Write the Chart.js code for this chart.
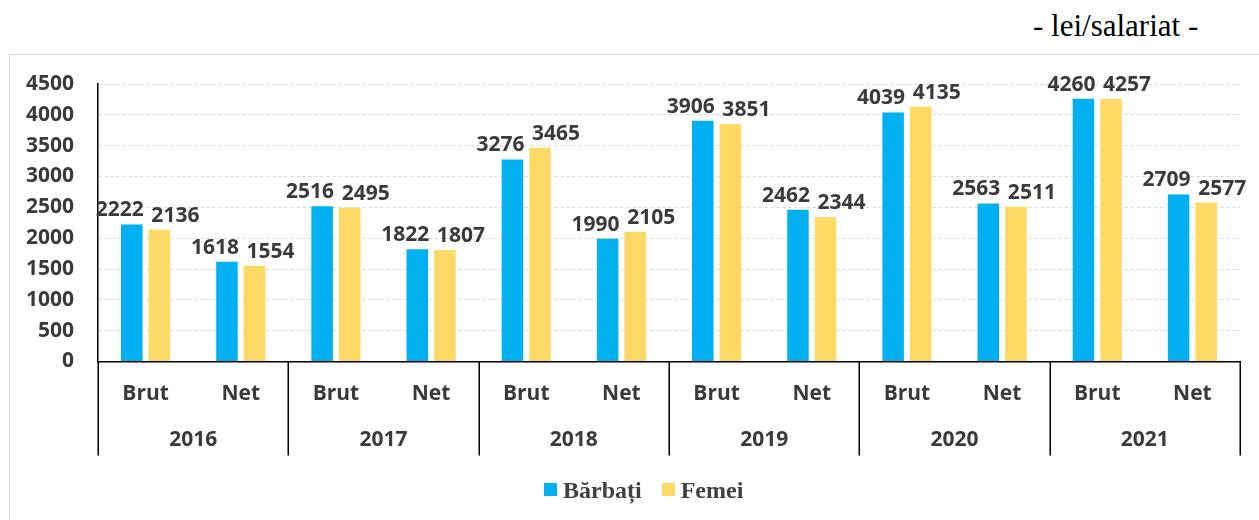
<!DOCTYPE html>
<html>
<head>
<meta charset="utf-8">
<script src="https://cdn.jsdelivr.net/npm/chart.js@4.4.1/dist/chart.umd.min.js"></script>
<style>
  html, body { margin: 0; padding: 0; background: #fff; width: 1259px; height: 520px; overflow: hidden; position: relative; }
  #unit { position: absolute; left: 1033px; top: 10px; font-family: "Liberation Serif", "Times New Roman", serif; font-size: 31px; line-height: 31px; color: #000; white-space: nowrap; }
  #box { position: absolute; left: 9px; top: 54px; width: 1300px; height: 500px; border: 1px solid #d9d9d9; }
  #c { position: absolute; left: 0; top: 0; width: 1266px; height: 465px; }
  #legend { position: absolute; left: 544px; top: 477.5px; display: flex; align-items: center; font-family: "Liberation Serif", "Times New Roman", serif; font-weight: bold; font-size: 24px; line-height: 24px; color: #404040; white-space: nowrap; }
  #legend .sw { display: inline-block; width: 13px; height: 13px; margin-right: 6px; }
  #legend .item { display: flex; align-items: center; margin-right: 20px; }
</style>
</head>
<body>
<div id="unit">- lei/salariat -</div>
<div id="box"><canvas id="c" width="1266" height="465"></canvas></div>
<div id="legend"></div>
<script>
// ---- data ----
const years = ["2016", "2017", "2018", "2019", "2020", "2021"];
const types = ["Brut", "Net"];
const categories = ["Brut", "Net", "Brut", "Net", "Brut", "Net", "Brut", "Net", "Brut", "Net", "Brut", "Net"];
const barbati = [2222, 1618, 2516, 1822, 3276, 1990, 3906, 2462, 4039, 2563, 4260, 2709];
const femei   = [2136, 1554, 2495, 1807, 3465, 2105, 3851, 2344, 4135, 2511, 4257, 2577];
const seriesNames = ["Bărbați", "Femei"];
const seriesColors = ["#00B0F0", "#FFD966"];
const yTicks = [0, 500, 1000, 1500, 2000, 2500, 3000, 3500, 4000, 4500];

const FONT = '"Open Sans", "Noto Sans", sans-serif';
const TEXT = '#3a3a3a';
const FS = 21;

const valueLabels = {
  id: 'valueLabels',
  afterDatasetsDraw(chart) {
    const ctx = chart.ctx;
    ctx.save();
    ctx.font = 'bold ' + FS + 'px ' + FONT;
    ctx.fillStyle = TEXT;
    ctx.textAlign = 'center';
    ctx.textBaseline = 'alphabetic';
    chart.data.datasets.forEach((ds, di) => {
      const meta = chart.getDatasetMeta(di);
      const dx = di === 0 ? -12 : 16;
      meta.data.forEach((bar, i) => {
        ctx.fillText(String(ds.data[i]), bar.x + dx, bar.y - 8);
      });
    });
    ctx.restore();
  }
};

const yearAxis = {
  id: 'yearAxis',
  afterDraw(chart) {
    const ctx = chart.ctx;
    const xs = chart.scales.x;
    const n = categories.length;
    const w = (xs.right - xs.left) / n;
    const per = types.length;
    ctx.save();
    ctx.strokeStyle = '#000';
    ctx.lineWidth = 1.5;
    for (let i = 0; i <= years.length; i++) {
      const bx = Math.round(xs.left + i * per * w) + 0.25;
      ctx.beginPath();
      ctx.moveTo(bx, xs.top);
      ctx.lineTo(bx, xs.bottom);
      ctx.stroke();
    }
    ctx.font = 'bold ' + FS + 'px ' + FONT;
    ctx.fillStyle = TEXT;
    ctx.textAlign = 'center';
    ctx.textBaseline = 'middle';
    years.forEach((y, i) => {
      ctx.fillText(y, xs.left + (i * per + per / 2) * w, xs.top + 78.5);
    });
    ctx.restore();
  }
};

new Chart(document.getElementById('c'), {
  type: 'bar',
  data: {
    labels: categories,
    datasets: [
      { label: seriesNames[0], data: barbati, backgroundColor: seriesColors[0], barPercentage: 0.78, categoryPercentage: 0.58 },
      { label: seriesNames[1], data: femei, backgroundColor: seriesColors[1], barPercentage: 0.78, categoryPercentage: 0.58 }
    ]
  },
  options: {
    responsive: false,
    animation: false,
    devicePixelRatio: 1,
    layout: { padding: { top: 29, right: 36, bottom: 64.5, left: 0 } },
    plugins: { legend: { display: false }, tooltip: { enabled: false } },
    scales: {
      x: {
        grid: { display: false, drawTicks: false },
        border: { display: true, color: '#000', width: 1.5 },
        ticks: { autoSkip: false, maxRotation: 0, padding: 20, color: TEXT, font: { family: FONT, size: FS, weight: 'bold' } },
        afterFit(axis) { axis.height = 94; }
      },
      y: {
        min: 0, max: 4500,
        afterBuildTicks(axis) { axis.ticks = yTicks.map(v => ({ value: v })); },
        grid: { drawTicks: false, color: (c) => c.tick && c.tick.value === 0 ? 'rgba(0,0,0,0)' : '#d4d4d4', lineWidth: 1 },
        border: { display: true, color: '#000', width: 1.5, dash: [3, 3] },
        ticks: { padding: 24, color: TEXT, font: { family: FONT, size: FS, weight: 'bold' }, callback: (v) => String(v) },
        afterFit(axis) { axis.width = 88; axis.paddingTop = 0; axis.paddingBottom = 0; }
      }
    }
  },
  plugins: [valueLabels, yearAxis]
});

// HTML legend
const lg = document.getElementById('legend');
seriesNames.forEach((name, i) => {
  const item = document.createElement('span');
  item.className = 'item';
  const sw = document.createElement('span');
  sw.className = 'sw';
  sw.style.background = seriesColors[i];
  const t = document.createElement('span');
  t.textContent = name;
  item.appendChild(sw); item.appendChild(t);
  lg.appendChild(item);
});
</script>
</body>
</html>
